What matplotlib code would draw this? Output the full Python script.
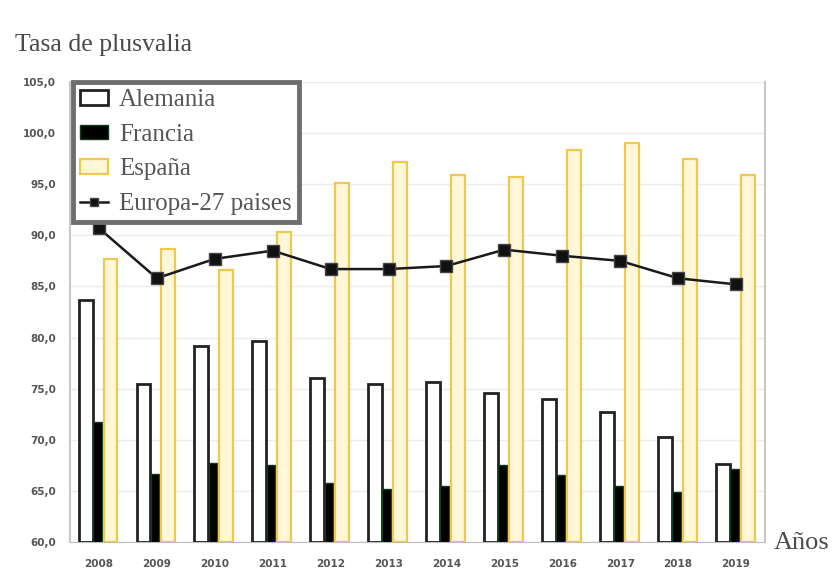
import numpy as np
import matplotlib.pyplot as plt
from matplotlib.ticker import FuncFormatter

years = ["2008", "2009", "2010", "2011", "2012", "2013",
         "2014", "2015", "2016", "2017", "2018", "2019"]
alemania = [83.7, 75.5, 79.2, 79.7, 76.0, 75.5, 75.7, 74.6, 74.0, 72.7, 70.3, 67.6]
francia = [71.7, 66.7, 67.7, 67.5, 65.8, 65.2, 65.5, 67.5, 66.6, 65.5, 64.9, 67.1]
espana = [87.7, 88.7, 86.6, 90.3, 95.1, 97.2, 95.9, 95.7, 98.3, 99.0, 97.5, 95.9]
europa = [90.7, 85.8, 87.7, 88.5, 86.7, 86.7, 87.0, 88.6, 88.0, 87.5, 85.8, 85.2]

serif = "Liberation Serif"
text_col = "#555555"

fig = plt.figure(figsize=(8.39, 5.75), dpi=100)
ax = fig.add_axes([0.0834, 0.0574, 0.8284, 0.80])

x = np.arange(len(years))
b1 = ax.bar(x - 0.23, np.array(alemania) - 60, bottom=60, width=0.24,
            facecolor="white", edgecolor="#222222", linewidth=2, zorder=3,
            label="Alemania")
b2 = ax.bar(x - 0.03, np.array(francia) - 60, bottom=60, width=0.15,
            facecolor="#000000", edgecolor="#0b3d1c", linewidth=1, zorder=3,
            label="Francia")
b3 = ax.bar(x + 0.2, np.array(espana) - 60, bottom=60, width=0.24,
            facecolor="#fff7d8", edgecolor="#f0c850", linewidth=1.6, zorder=3,
            label="España")
l1, = ax.plot(x, europa, color="#1a1a1a", linewidth=1.8, marker="s",
              markersize=8, markerfacecolor="#111111", markeredgecolor="#444444",
              zorder=5, label="Europa-27 paises")

ax.set_xlim(-0.5, len(years) - 0.5)
ax.set_ylim(60, 105)
ax.set_yticks(np.arange(60, 106, 5))
ax.yaxis.set_major_formatter(FuncFormatter(lambda v, p: f"{v:.1f}".replace(".", ",")))
ax.set_xticks(x)
ax.set_xticklabels(years)
ax.grid(axis="y", color="#ececec", linewidth=1, zorder=0)
ax.tick_params(length=0, labelsize=7.5, labelcolor=text_col, pad=12)
ax.tick_params(axis="y", pad=10)
for lab in ax.get_xticklabels() + ax.get_yticklabels():
    lab.set_fontweight("bold")

ax.spines["top"].set_visible(False)
ax.spines["left"].set_color("#c8c8c8")
ax.spines["right"].set_color("#c8c8c8")
ax.spines["bottom"].set_color("#bdbdbd")
ax.spines["left"].set_linewidth(1.5)
ax.spines["right"].set_linewidth(1.5)

leg = ax.legend([b1, b2, b3, l1], ["Alemania", "Francia", "España", "Europa-27 paises"],
                loc="upper left", bbox_to_anchor=(0.004, 1.0), borderaxespad=0,
                fancybox=False, framealpha=1, edgecolor="#6e6e6e",
                prop={"family": serif, "size": 18}, labelspacing=0.5,
                handlelength=1.1, handleheight=0.5, handletextpad=0.45,
                borderpad=0.3, markerscale=0.8)
leg.get_frame().set_linewidth(3.5)
leg.set_zorder(10)
for t in leg.get_texts():
    t.set_color(text_col)

fig.text(0.018, 0.922, "Tasa de plusvalia", family=serif, fontsize=18.5,
         color="#4a4a4a", va="center")
fig.text(0.922, 0.056, "Años", family=serif, fontsize=19,
         color="#4a4a4a", va="center")

fig.savefig("out.png", dpi=100)
